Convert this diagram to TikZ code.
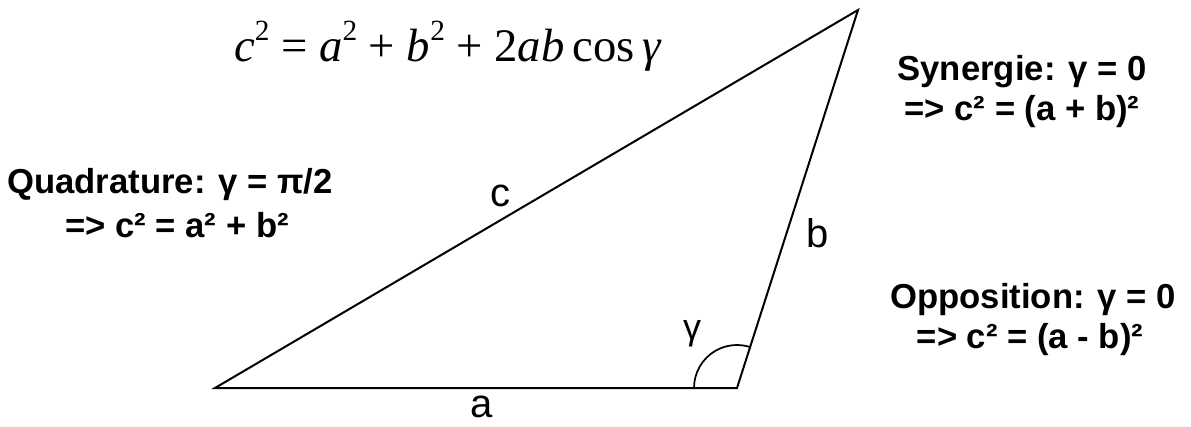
\documentclass[tikz,border=0pt]{standalone}
\usepackage{fontspec}
\setmainfont{Liberation Sans}
\newfontfamily\eqfont{Liberation Serif}
\newcommand{\eqsq}{\raisebox{0.45em}{\fontsize{22}{22}\selectfont 2}}
\begin{document}
\begin{tikzpicture}[x=0.75pt,y=0.75pt,
  edge/.style={line width=1.5pt, line join=miter},
  sidelbl/.style={font=\fontsize{30}{36}\selectfont, inner sep=0pt},
  caselbl/.style={font=\fontsize{26}{30}\selectfont\bfseries, inner sep=0pt, align=center},
  eqlbl/.style={font=\eqfont\fontsize{35}{40}\selectfont, inner sep=0pt}]
\useasboundingbox (0,0) rectangle (1191,426);
\coordinate (A) at (215,38);
\coordinate (C) at (737,38);
\coordinate (B) at (858,416);
\draw[edge] (A) -- (C) -- (B) -- cycle;
\draw[line width=1.3pt] (C) ++(180:43) arc[start angle=180, end angle=72.2, radius=32.25pt];
\node[sidelbl] (la) at (482,19) {a};
\node[sidelbl] (lb) at (818,193) {b};
\node[sidelbl] (lc) at (500,230) {c};
\node[font=\fontsize{27}{30}\selectfont, inner sep=0pt] (lg) at (692,92) {γ};
\node[eqlbl] (eq) at (448,380) {\textit{c}\eqsq\ = \textit{a}\eqsq\ + \textit{b}\eqsq\ + 2\textit{ab}\,cos\,\textit{γ}};
\node[caselbl] (syn1) at (1022,354) {Synergie: γ = 0};
\node[caselbl] (syn2) at (1022,314) {=> c² = (a + b)²};
\node[caselbl] (quad1) at (170,241) {Quadrature: γ = π/2};
\node[caselbl] (quad2) at (177,201) {=> c² = a² + b²};
\node[caselbl] (opp1) at (1033,126) {Opposition: γ = 0};
\node[caselbl] (opp2) at (1030,86) {=> c² = (a - b)²};
\end{tikzpicture}
\end{document}
